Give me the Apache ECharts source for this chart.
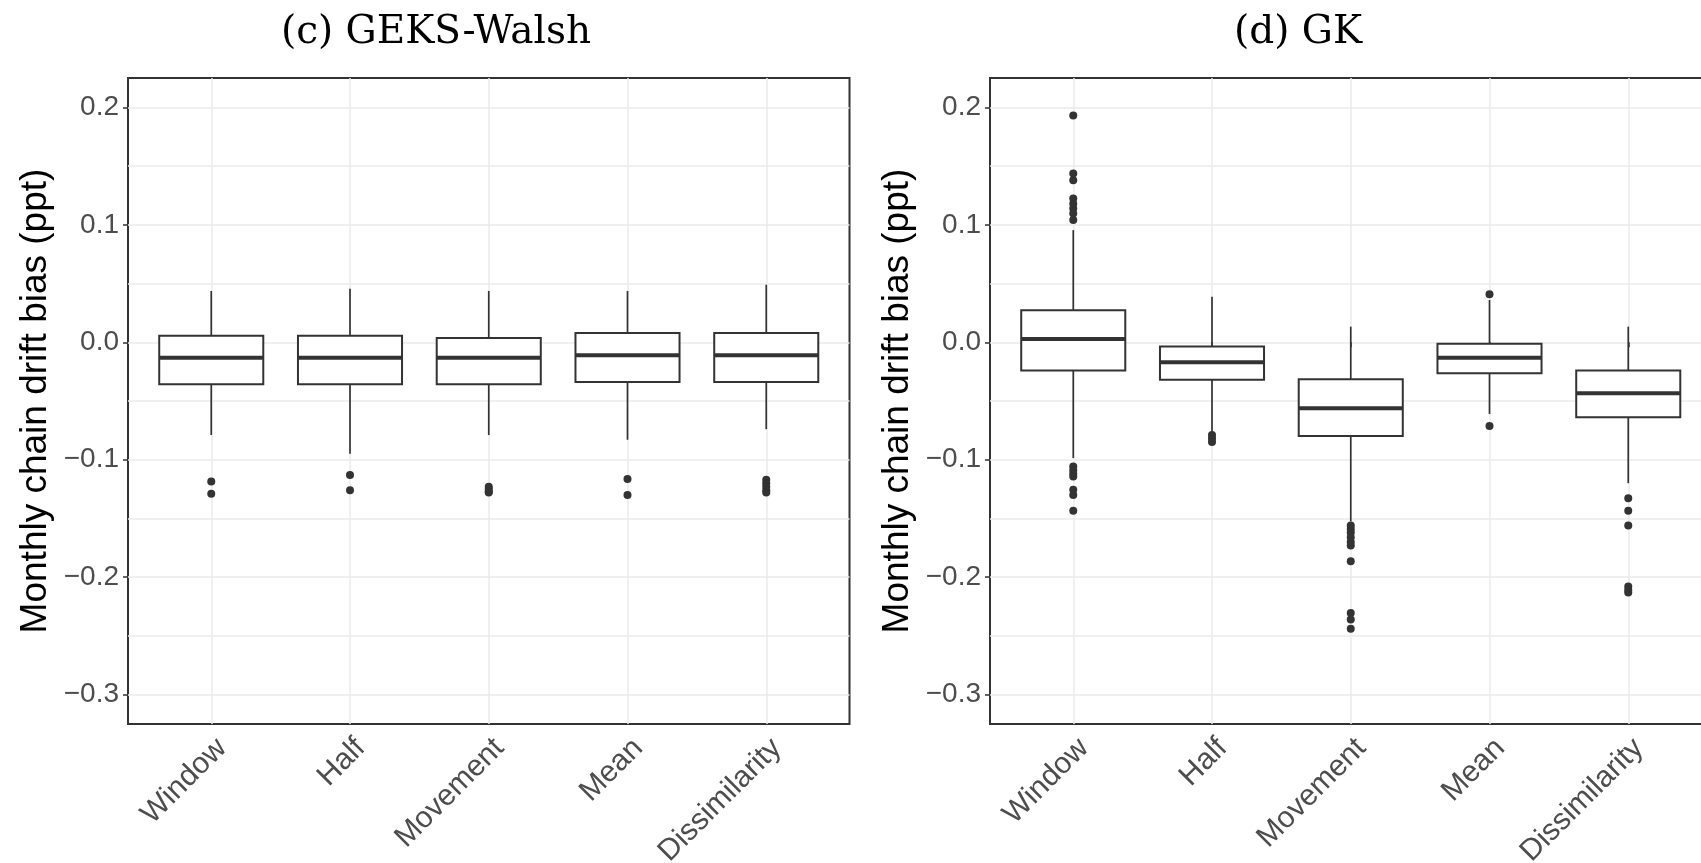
<!DOCTYPE html>
<html>
<head>
<meta charset="utf-8">
<script src="https://cdn.jsdelivr.net/npm/echarts@6/dist/echarts.min.js"></script>
<style>
  html, body { margin: 0; padding: 0; background: #fff; }
  #chart { width: 1701px; height: 863px; }
</style>
</head>
<body>
<div id="chart"></div>
<script>
// Monthly chain drift bias, boxplots per splice method (ggplot look-alike)
const methods = ['Window', 'Half', 'Movement', 'Mean', 'Dissimilarity'];

// [min whisker, Q1, median, Q3, max whisker]
const geksBoxes = [
  [-0.079, -0.0357, -0.0131, 0.0056, 0.0437],
  [-0.095, -0.0357, -0.0131, 0.0056, 0.0456],
  [-0.079, -0.0357, -0.0131, 0.0037, 0.0437],
  [-0.083, -0.0338, -0.0111, 0.0079, 0.0437],
  [-0.074, -0.0338, -0.0111, 0.0079, 0.0490],
];
const geksOutliers = [
  [-0.1185, -0.129],
  [-0.1129, -0.126],
  [-0.123, -0.125, -0.127, -0.128],
  [-0.1165, -0.130],
  [-0.117, -0.120, -0.123, -0.126, -0.128],
];

const gkBoxes = [
  [-0.0986, -0.0241, 0.0028, 0.0272, 0.0955],
  [-0.076, -0.032, -0.017, -0.0037, 0.0388],
  [-0.1525, -0.0797, -0.0561, -0.0315, 0.0133],
  [-0.061, -0.0264, -0.0131, -0.0012, 0.036],
  [-0.120, -0.0638, -0.0434, -0.0241, 0.0133],
];
const gkOutliers = [
  [0.193, 0.1437, 0.138, 0.1224, 0.118, 0.1139, 0.1097, 0.104,
   -0.1058, -0.109, -0.112, -0.1143, -0.1256, -0.130, -0.1435],
  [-0.079, -0.082, -0.085],
  [-0.156, -0.159, -0.162, -0.166, -0.170, -0.173, -0.1865, -0.2305, -0.236, -0.244],
  [0.0408, -0.0712],
  [-0.1327, -0.1435, -0.156, -0.208, -0.211, -0.213],
];

const yMajor = [-0.3, -0.2, -0.1, 0, 0.1, 0.2];
const yMinor = [-0.3, -0.25, -0.2, -0.15, -0.1, -0.05, 0, 0.05, 0.1, 0.15, 0.2];
const panelTitles = ['(c) GEKS-Walsh', '(d) GK'];
const yName = 'Monthly chain drift bias (ppt)';

const INK = '#333333';
const GRIDC = '#EBEBEB';
const LABC = '#4D4D4D';
const SANS = 'Liberation Sans, Arial, sans-serif';

const chart = echarts.init(document.getElementById('chart'));

function renderBox(params, api) {
  const x = api.value(0);
  const half = api.size([0.75, 0])[0] / 2;
  const pMin = api.coord([x, api.value(1)]);
  const pQ1 = api.coord([x, api.value(2)]);
  const pMed = api.coord([x, api.value(3)]);
  const pQ3 = api.coord([x, api.value(4)]);
  const pMax = api.coord([x, api.value(5)]);
  const line = { stroke: INK, lineWidth: 1.7 };
  return {
    type: 'group',
    children: [
      { type: 'line', shape: { x1: pMax[0], y1: pMax[1], x2: pQ3[0], y2: pQ3[1] }, style: line },
      { type: 'line', shape: { x1: pQ1[0], y1: pQ1[1], x2: pMin[0], y2: pMin[1] }, style: line },
      { type: 'rect', shape: { x: pQ3[0] - half, y: pQ3[1], width: half * 2, height: pQ1[1] - pQ3[1] },
        style: { fill: '#fff', stroke: INK, lineWidth: 2 } },
      { type: 'line', shape: { x1: pMed[0] - half, y1: pMed[1], x2: pMed[0] + half, y2: pMed[1] },
        style: { stroke: INK, lineWidth: 4 } },
    ],
  };
}

const grids = [
  { left: 128, top: 78, width: 721.5, height: 646 },
  { left: 990, top: 78, width: 721.5, height: 646 },
];

const xAxes = [], yAxes = [], series = [], titles = [];
[[geksBoxes, geksOutliers], [gkBoxes, gkOutliers]].forEach(([boxes, outs], gi) => {
  xAxes.push({
    gridIndex: gi, type: 'value', min: 0.4, max: 5.6,
    axisLine: { show: false },
    axisTick: { customValues: [1, 2, 3, 4, 5], length: 5, lineStyle: { color: INK, width: 1.5 } },
    axisLabel: {
      customValues: [1, 2, 3, 4, 5], formatter: v => methods[Math.round(v) - 1] || '',
      rotate: 45, fontSize: 30, color: LABC, fontFamily: SANS, margin: 9,
      align: 'right', verticalAlign: 'top',
    },
    splitLine: { show: true, lineStyle: { color: GRIDC, width: 1.5 } },
  });
  // minor + major horizontal grid lines
  yAxes.push({
    gridIndex: gi, type: 'value', min: -0.325, max: 0.225, position: 'right',
    axisLine: { show: false }, axisLabel: { show: false },
    axisTick: { show: false, customValues: yMinor },
    splitLine: { show: true, lineStyle: { color: GRIDC, width: 1.5 } },
  });
  // labels, ticks and axis title
  yAxes.push({
    gridIndex: gi, type: 'value', min: -0.325, max: 0.225, position: 'left',
    axisLine: { show: false },
    axisTick: { customValues: yMajor, length: 5, lineStyle: { color: INK, width: 1.5 } },
    axisLabel: {
      customValues: yMajor, fontSize: 28, color: LABC, fontFamily: SANS, margin: 9,
      formatter: v => (v < 0 ? '\u2212' : '') + Math.abs(v).toFixed(1),
    },
    splitLine: { show: false },
    name: yName, nameLocation: 'middle', nameGap: 74, nameRotate: 90,
    nameTextStyle: { fontSize: 37, color: '#000', fontFamily: SANS },
  });
  series.push({
    type: 'custom', xAxisIndex: gi, yAxisIndex: gi * 2 + 1,
    renderItem: renderBox,
    encode: { x: 0, y: [1, 2, 3, 4, 5] },
    data: boxes.map((b, i) => [i + 1, ...b]),
    z: 3,
  });
  const pts = [];
  outs.forEach((list, i) => list.forEach(v => pts.push([i + 1, v])));
  series.push({
    type: 'scatter', xAxisIndex: gi, yAxisIndex: gi * 2 + 1,
    symbolSize: 8, itemStyle: { color: INK, opacity: 1 },
    data: pts, z: 4,
  });
  titles.push({
    text: panelTitles[gi], left: gi === 0 ? 436 : 1298, top: 13, textAlign: 'center', padding: 0,
    textStyle: { fontFamily: 'DejaVu Serif, serif', fontWeight: 'normal', fontSize: 39, color: '#000' },
  });
});

chart.setOption({
  backgroundColor: '#fff',
  animation: false,
  title: titles,
  grid: grids.map(g => Object.assign({
    show: true, borderColor: INK, borderWidth: 2, backgroundColor: 'transparent',
    outerBoundsMode: 'none', containLabel: false,
  }, g)),
  xAxis: xAxes,
  yAxis: yAxes,
  series,
});
</script>
</body>
</html>
